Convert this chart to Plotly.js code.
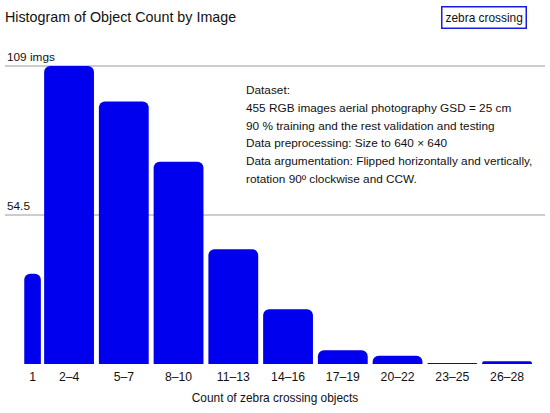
<!DOCTYPE html>
<html>
<head>
<meta charset="utf-8">
<script src="https://cdn.plot.ly/plotly-3.0.1.min.js"></script>
<style>html,body{margin:0;padding:0;background:#fff;}#chart{width:550px;height:413px;}</style>
</head>
<body>
<div id="chart"></div>
<script>
const binLabels = ["1","2–4","5–7","8–10","11–13","14–16","17–19","20–22","23–25","26–28"];
const binStart  = [1, 2, 5, 8, 11, 14, 17, 20, 23, 26];
const binEnd    = [1, 4, 7, 10, 13, 16, 19, 22, 25, 28];
const counts    = [33, 109, 96, 74, 42, 20, 5, 3, 0.4, 1];
const gridVals  = [54.5, 109];
const gridLabels = ["54.5", "109 imgs"];
const infoLines = [
  "Dataset:",
  "455 RGB images aerial photography GSD = 25 cm",
  "90 % training and the rest validation and testing",
  "Data preprocessing: Size to 640 × 640",
  "Data argumentation: Flipped horizontally and vertically,",
  "rotation 90º clockwise and CCW."
];

const centers = binStart.map((s, i) => (s + binEnd[i]) / 2);
const widths = binStart.map((s, i) => (binEnd[i] - s + 1) * 0.91);

const font = "Liberation Sans, Arial, sans-serif";

const trace = {
  type: "bar",
  x: centers,
  y: counts,
  width: widths,
  marker: {color: "#0000ee", line: {width: 0}},
  hoverinfo: "skip"
};

const annotations = gridVals.map((v, i) => ({
  x: 0, xref: "paper", y: v, yref: "y",
  xanchor: "left", yanchor: "bottom", yshift: 0,
  text: gridLabels[i], showarrow: false,
  font: {family: font, size: 11.8, color: "#111"}
}));
infoLines.forEach((line, i) => {
  annotations.push({
    x: 0.443, xref: "paper", y: 1, yref: "paper",
    xanchor: "left", yanchor: "middle", align: "left",
    yshift: -(40 + i * 17.8),
    text: line, showarrow: false,
    font: {family: font, size: 11.8, color: "#111"}
  });
});
annotations.push({
  x: 0.967, xref: "paper", y: 1.102, yref: "paper",
  xanchor: "right", yanchor: "middle",
  text: "zebra crossing", showarrow: false,
  bordercolor: "#1a1ae0", borderwidth: 1.5, borderpad: 3,
  bgcolor: "#fff",
  font: {family: font, size: 11.9, color: "#111"}
});

const layout = {
  width: 550, height: 413,
  margin: {l: 5, r: 5, t: 50, b: 49},
  paper_bgcolor: "#fff", plot_bgcolor: "#fff",
  showlegend: false,
  barcornerradius: 6,
  title: {
    text: "Histogram of Object Count by Image",
    x: 0.009, xanchor: "left", xref: "container",
    y: 0.958, yanchor: "middle", yref: "container",
    font: {family: font, size: 14.3, color: "#111"}
  },
  xaxis: {
    range: [-0.51, 29.08],
    tickmode: "array", tickvals: centers, ticktext: binLabels,
    showgrid: false, zeroline: false, showline: false, ticks: "",
    ticklabelstandoff: 4,
    tickfont: {family: font, size: 12.2, color: "#111"},
    title: {text: "Count of zebra crossing objects", standoff: 10,
            font: {family: font, size: 11.9, color: "#111"}},
    fixedrange: true
  },
  yaxis: {
    range: [0, 114.85],
    tickmode: "array", tickvals: gridVals, showticklabels: false,
    showgrid: true, gridcolor: "#cccccc", gridwidth: 1.5,
    zeroline: false, showline: false, ticks: "",
    fixedrange: true
  },
  annotations: annotations
};

Plotly.newPlot("chart", [trace], layout, {displayModeBar: false, staticPlot: true});
</script>
</body>
</html>
